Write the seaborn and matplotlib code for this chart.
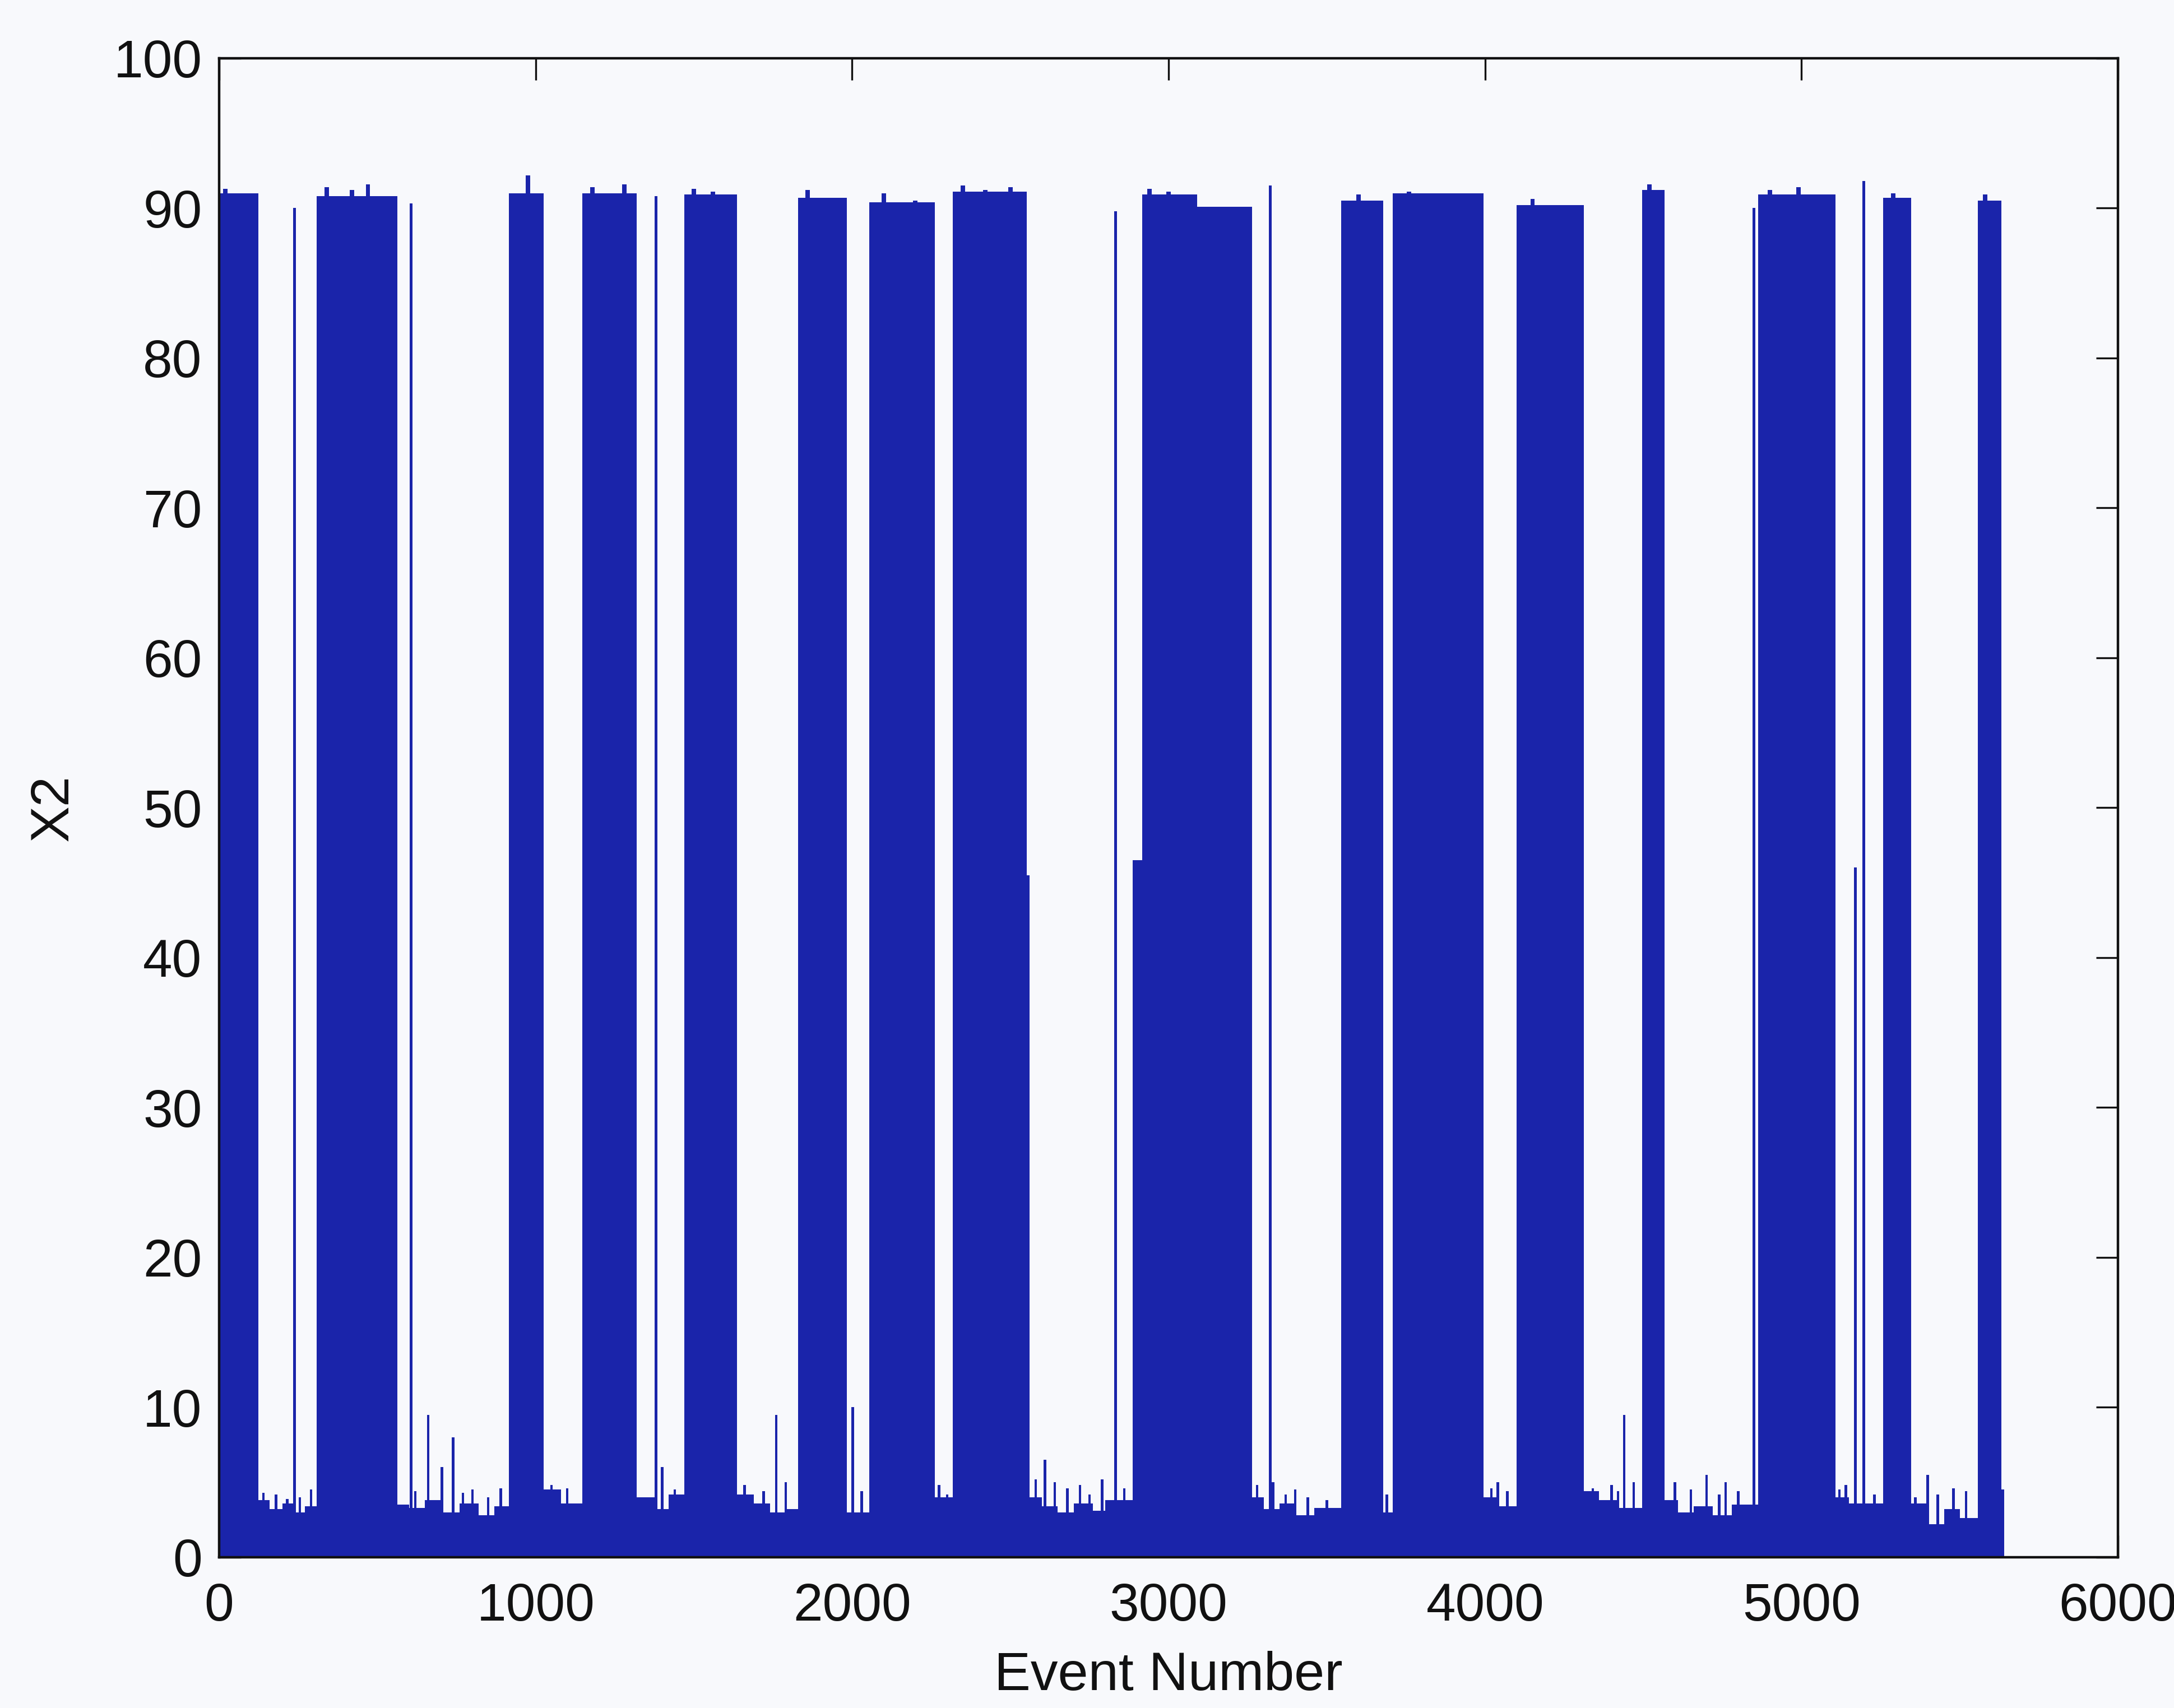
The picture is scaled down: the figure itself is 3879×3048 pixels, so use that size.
import numpy as np
import pandas as pd
import matplotlib
matplotlib.use("Agg")
import matplotlib.pyplot as plt
import seaborn as sns

# ---------------- data ----------------
# wide high-level blocks (event start, event end, top value)
high_start = [0, 308, 915, 1148, 1469, 1830, 2055, 2318, 2917, 3090, 3546, 3709, 4100, 4497, 4862, 5258, 5557]
high_end   = [123, 563, 1025, 1320, 1637, 1984, 2261, 2552, 3090, 3264, 3678, 3995, 4312, 4567, 5108, 5346, 5632]
high_top   = [91.0, 90.8, 91.0, 91.0, 90.9, 90.7, 90.4, 91.1, 90.9, 90.1, 90.5, 91.0, 90.2, 91.2, 90.9, 90.7, 90.5]

# ragged tops of the blocks (event, value)
top_x = [20, 60, 340, 380, 420, 470, 520, 940, 975, 1180, 1230, 1280, 1500, 1560, 1860, 1940, 2100, 2200, 2350, 2420, 2500, 2940, 3000, 3600, 3760, 3850, 4150, 4520, 4900, 4990, 5060, 5290, 5580]
top_h = [91.3, 90.8, 91.4, 90.5, 91.2, 91.6, 90.6, 90.7, 92.2, 91.4, 90.8, 91.6, 91.3, 91.1, 91.2, 90.4, 91.0, 90.5, 91.5, 91.2, 91.4, 91.3, 91.1, 90.9, 91.1, 91.0, 90.6, 91.6, 91.2, 91.4, 90.9, 91.0, 90.9]

# half-height steps at block edges (start, end, value)
step_start = [2552, 2886]
step_end   = [2560, 2917]
step_top   = [45.5, 46.5]

# isolated thin tall lines (event, value)
thin_x = [238, 607, 1381, 2833, 3322, 4849, 5170, 5196]
thin_h = [90.0, 90.3, 90.8, 89.8, 91.5, 90.0, 46.0, 91.8]

# low-level baseline between the blocks (step edges and levels)
low_edges  = [0, 123, 160, 200, 238, 270, 308, 563, 600, 650, 700, 760, 820, 870, 915, 1025, 1080, 1148,
              1320, 1381, 1420, 1469, 1637, 1690, 1740, 1790, 1830, 1984, 2055, 2261, 2318, 2552, 2600,
              2650, 2700, 2760, 2800, 2886, 3264, 3300, 3350, 3400, 3460, 3546, 3678, 3709, 3995, 4040,
              4100, 4312, 4360, 4420, 4497, 4567, 4610, 4660, 4720, 4780, 4862, 5108, 5150, 5258, 5346,
              5400, 5450, 5500, 5557, 5632, 5641]
low_levels = [3.0, 3.8, 3.2, 3.6, 3.0, 3.4, 3.0, 3.5, 3.3, 3.8, 3.0, 3.6, 2.8, 3.4, 3.0, 4.5, 3.6,
              3.0, 4.0, 3.2, 4.2, 3.0, 4.2, 3.6, 3.0, 3.2, 3.0, 3.0, 3.0, 4.0, 3.0, 4.0,
              3.4, 3.0, 3.6, 3.1, 3.8, 3.0, 4.0, 3.2, 3.6, 2.8, 3.3, 3.0, 3.0, 3.0, 4.0,
              3.4, 3.0, 4.4, 3.8, 3.3, 3.0, 3.8, 3.0, 3.4, 2.8, 3.5, 3.0, 4.0, 3.6, 3.0,
              3.6, 2.2, 3.2, 2.6, 3.0, 4.5]

# tall spikes in the low regions (event, value)
spike_x = [140, 180, 215, 255, 290, 620, 660, 704, 739, 770, 800, 850, 890, 1003, 1050, 1100, 1400,
           1440, 1660, 1720, 1760, 1790, 2002, 2030, 2275, 2300, 2580, 2609, 2640, 2680, 2720, 2750,
           2790, 2860, 3280, 3330, 3370, 3400, 3440, 3500, 3690, 4020, 4040, 4070, 4340, 4400, 4420,
           4440, 4470, 4600, 4650, 4700, 4740, 4760, 4800, 5120, 5140, 5230, 5285, 5360, 5399, 5430,
           5480, 5520]
spike_h = [4.3, 4.2, 3.9, 4.0, 4.5, 4.4, 9.5, 6.0, 8.0, 4.3, 4.5, 4.0, 4.6, 7.0, 4.8, 4.6, 6.0,
           4.5, 4.8, 4.4, 9.5, 5.0, 10.0, 4.4, 4.8, 4.2, 5.2, 6.5, 5.0, 4.6, 4.8, 4.2,
           5.2, 4.6, 4.8, 5.0, 4.2, 4.5, 4.0, 3.8, 4.2, 4.6, 5.0, 4.4, 4.6, 4.8, 4.4,
           9.5, 5.0, 5.0, 4.5, 5.5, 4.2, 5.0, 4.4, 4.5, 4.8, 4.2, 6.0, 4.0, 5.5, 4.2,
           4.6, 4.4]

x_ticks = [0, 1000, 2000, 3000, 4000, 5000, 6000]
y_ticks = [0, 10, 20, 30, 40, 50, 60, 70, 80, 90, 100]

# ---------------- drawing ----------------
sns.set_theme(style="white")
plt.rcParams["font.family"] = ["Liberation Sans", "DejaVu Sans"]

blue = "#1a24aa"
bg = "#f8f9fc"

fig = plt.figure(figsize=(19.4, 15.24), dpi=200, facecolor=bg)
ax = fig.add_axes([0.1008, 0.0883, 0.8732, 0.8776])
ax.set_facecolor(bg)

# baseline profile through seaborn (weighted histogram with hand-read bins)
low_df = pd.DataFrame({
    "event": [(a + b) / 2 for a, b in zip(low_edges[:-1], low_edges[1:])],
    "x2": low_levels,
})
sns.histplot(data=low_df, x="event", weights="x2", bins=low_edges, element="bars",
             fill=True, color=blue, alpha=1.0, linewidth=0, ax=ax)

# high blocks
ax.bar(high_start, high_top, width=[e - s for s, e in zip(high_start, high_end)],
       align="edge", color=blue, linewidth=0)
ax.bar(top_x, top_h, width=14, align="center", color=blue, linewidth=0)
ax.bar(step_start, step_top, width=[e - s for s, e in zip(step_start, step_end)],
       align="edge", color=blue, linewidth=0)
ax.bar(thin_x, thin_h, width=9, align="center", color=blue, linewidth=0)
ax.bar(spike_x, spike_h, width=8, align="center", color=blue, linewidth=0)

ax.set_xlim(0, 6000)
ax.set_ylim(0, 100)
ax.set_xticks(x_ticks)
ax.set_yticks(y_ticks)
ax.set_xticklabels([str(v) for v in x_ticks])
ax.set_yticklabels([str(v) for v in y_ticks])
ax.tick_params(axis="both", which="both", direction="in", length=14, width=1.2,
               top=True, right=True, bottom=True, left=True, labelsize=34, colors="#111111")
ax.tick_params(axis="x", pad=16)
ax.tick_params(axis="y", pad=11)
for s in ax.spines.values():
    s.set_visible(True)
    s.set_color("#111111")
    s.set_linewidth(1.6)

ax.set_xlabel("Event Number", fontsize=35, color="#111111", labelpad=12)
ax.set_ylabel("X2", fontsize=35, color="#111111", labelpad=22)
ax.grid(False)

fig.savefig("out.png", dpi=200, facecolor=bg)
